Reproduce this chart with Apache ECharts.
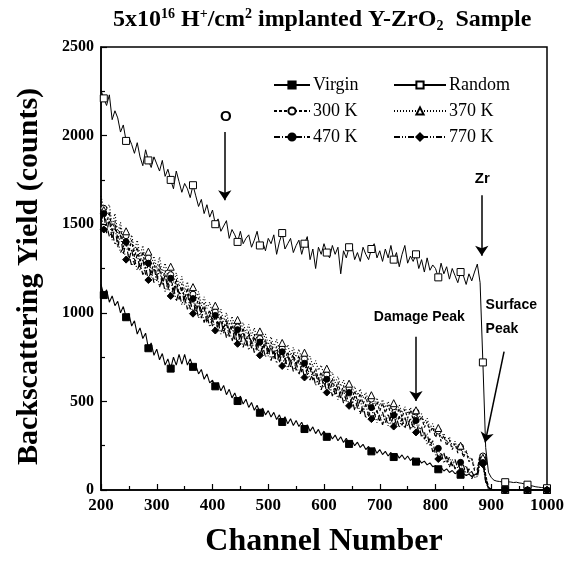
<!DOCTYPE html>
<html>
<head>
<meta charset="utf-8">
<script src="https://cdn.jsdelivr.net/npm/echarts@6/dist/echarts.min.js"></script>
<style>html,body{margin:0;padding:0;background:#fff;}#c{width:567px;height:563px;}</style>
</head>
<body>
<div id="c"></div>
<script>
// ---- data ----
const channelStart = 200;
const channelStep = 5;
const markerChannels = [205,245,285,325,365,405,445,485,525,565,605,645,685,725,765,805,845,885,925,965,1000];
const xTicks = [200,300,400,500,600,700,800,900,1000];
const yTicks = [0,500,1000,1500,2000,2500];

const virgin = [
1160,1100,1130,1060,1095,1040,1065,1000,1035,975,
995,925,955,880,915,855,885,800,830,760,
795,735,770,705,740,685,750,705,765,710,
765,705,740,695,705,655,680,625,655,605,
620,585,605,560,590,538,568,520,548,502,
530,485,512,466,494,450,478,436,462,424,
448,412,438,398,424,384,414,374,402,364,
392,358,382,344,368,332,356,318,342,308,
332,300,320,288,310,278,300,268,292,260,
280,250,270,240,258,228,246,218,238,208,
228,200,218,192,212,186,206,180,198,172,
192,166,182,160,175,152,163,142,153,132,
136,117,128,107,119,99,110,92,101,86,
94,81,90,76,84,95,170,165,58,12,
4,2,3,1,2,1,0,2,1,0,
1,0,2,1,0,1,0,1,0,1,
0];

const random = [
2255,2210,2170,2230,2090,2140,2100,2020,2060,1970,
1990,1950,1900,1960,1880,1830,1920,1860,1820,1880,
1840,1800,1860,1770,1810,1750,1700,1800,1740,1680,
1730,1700,1650,1720,1660,1600,1640,1560,1610,1540,
1580,1500,1530,1460,1490,1520,1420,1470,1440,1400,
1460,1390,1420,1440,1370,1410,1460,1380,1400,1350,
1420,1390,1440,1330,1400,1450,1360,1390,1420,1340,
1380,1410,1330,1390,1430,1300,1360,1250,1370,1330,
1390,1340,1310,1380,1330,1370,1220,1350,1310,1370,
1380,1300,1340,1290,1370,1330,1300,1360,1390,1310,
1350,1290,1360,1310,1380,1300,1340,1260,1330,1380,
1280,1320,1290,1330,1250,1300,1230,1310,1240,1270,
1250,1200,1280,1220,1260,1190,1250,1210,1170,1230,
1210,1160,1220,1180,1230,1275,1170,720,240,100,
70,55,50,48,45,44,46,45,42,44,
40,38,33,30,25,22,18,16,14,12,
10];

const k300 = [
1570,1590,1500,1570,1455,1520,1415,1480,1370,1435,
1345,1410,1315,1370,1285,1345,1250,1310,1230,1285,
1210,1275,1180,1240,1155,1215,1125,1190,1105,1165,
1075,1140,1050,1105,1025,1085,1000,1055,975,1015,
950,1005,930,985,910,965,890,945,875,920,
860,915,840,895,825,880,810,855,795,850,
780,835,765,810,745,800,735,780,720,775,
705,760,695,740,680,715,650,685,625,665,
610,650,590,630,565,610,545,590,530,575,
515,560,500,545,485,525,470,513,455,500,
445,490,435,480,425,470,417,461,409,455,
405,450,397,440,383,415,353,385,325,355,
297,333,275,307,250,283,228,263,209,243,
185,217,160,177,110,115,198,192,85,15,
3,2,1,0,1,0,1,0,0,1,
0,0,1,0,0,1,0,0,1,0,
0];

const k370 = [
1660,1580,1590,1610,1490,1560,1450,1510,1410,1460,
1380,1440,1350,1410,1320,1380,1285,1345,1270,1320,
1250,1315,1225,1280,1205,1260,1170,1225,1150,1205,
1120,1175,1095,1145,1070,1120,1040,1090,1025,1060,
990,1040,970,1020,950,1000,930,980,920,960,
900,945,885,935,870,915,850,895,845,880,
820,865,805,850,790,830,780,820,760,805,
750,795,740,775,725,755,695,730,675,705,
645,685,630,665,605,640,585,620,570,600,
550,585,535,570,520,550,500,535,485,520,
475,510,465,500,455,490,445,480,435,470,
430,465,420,450,405,430,380,405,350,375,
320,350,295,320,270,300,245,275,225,250,
200,225,178,180,125,120,188,182,82,15,
4,2,1,1,0,1,0,1,0,0,
0,1,0,0,1,0,0,1,0,0,
0];

const k470 = [
1520,1560,1450,1530,1410,1490,1370,1440,1330,1400,
1295,1360,1270,1330,1240,1305,1215,1280,1200,1260,
1180,1245,1155,1215,1130,1195,1100,1165,1075,1140,
1045,1110,1020,1080,995,1055,970,1030,945,990,
925,985,905,965,885,945,865,925,845,905,
830,890,815,875,800,860,785,835,770,830,
755,815,740,790,720,780,710,760,695,755,
675,735,665,715,650,690,620,660,595,640,
580,625,560,605,535,585,515,565,500,550,
480,530,460,510,440,485,415,465,400,450,
390,440,380,430,375,422,369,416,365,412,
359,406,349,392,327,358,287,318,247,278,
197,235,177,210,153,185,135,172,123,156,
105,138,88,105,70,92,160,155,50,8,
2,1,0,1,0,0,1,0,0,0,
0,1,0,0,0,1,0,0,0,0,
0];

const k770 = [
1565,1470,1495,1430,1455,1385,1410,1340,1365,1300,
1330,1265,1305,1240,1280,1215,1255,1185,1240,1170,
1220,1145,1195,1120,1170,1095,1145,1065,1120,1045,
1095,1020,1070,995,1045,970,1020,945,990,920,
970,900,950,880,930,860,910,840,890,825,
875,805,860,790,845,775,830,760,815,750,
800,730,785,715,765,700,750,680,735,670,
720,650,705,635,685,620,660,590,635,565,
620,550,600,530,580,510,560,490,540,475,
520,450,500,430,475,405,440,400,438,380,
425,368,420,362,415,358,410,352,405,348,
400,340,390,325,370,298,330,258,290,215,
235,175,212,152,190,130,172,118,160,105,
142,85,120,64,96,72,150,145,45,6,
1,0,0,1,0,0,0,1,0,0,
0,0,0,1,0,0,0,0,1,0,
0];

// annotation positions in data coordinates [channel, counts]
const arrows = [
  [[422, 2020], [422, 1635]],
  [[883, 1663], [883, 1322]],
  [[765, 865], [765, 502]],
  [[923, 781], [889, 268]]
];
const labels = [
  {coord: [424, 2104], text: 'O'},
  {coord: [884, 1758], text: 'Zr'},
  {coord: [771, 977], text: 'Damage Peak'}
];
const surfaceLabel = {coord: [889, 976], text: 'Surface\nPeak'};

// ---- chart ----
const markerSet = new Set(markerChannels);
function buildData(values) {
  return values.map(function (v, i) {
    const ch = channelStart + i * channelStep;
    return markerSet.has(ch) ? [ch, v] : {value: [ch, v], symbol: 'none'};
  });
}

const serif = '"Liberation Serif", "Times New Roman", serif';
const sans = '"Liberation Sans", Arial, sans-serif';

function mkSeries(name, values, symbol, filled, dash, size, width) {
  return {
    name: name,
    type: 'line',
    data: buildData(values),
    symbol: symbol,
    symbolSize: size,
    showSymbol: true,
    showAllSymbol: true,
    clip: true,
    lineStyle: {color: '#000', width: width, type: dash},
    itemStyle: {color: filled ? '#000' : '#fff', borderColor: '#000', borderWidth: 1, opacity: 1},
    emphasis: {disabled: true},
    silent: true,
    z: 3
  };
}

const seriesList = [
  mkSeries('Virgin', virgin, 'rect', true, 'solid', 7, 1.1),
  mkSeries('Random', random, 'rect', false, 'solid', 7, 1),
  mkSeries('300 K', k300, 'circle', false, [3, 2], 6, 1.2),
  mkSeries('370 K', k370, 'triangle', false, [1, 2], 7, 1.2),
  mkSeries('470 K', k470, 'circle', true, [6, 2, 1, 2], 6, 1.2),
  mkSeries('770 K', k770, 'diamond', true, [6, 2, 1, 2, 1, 2], 7, 1.2)
];

const annotTextStyle = {color: '#000', fontFamily: sans, fontWeight: 'bold', fontSize: 14};
seriesList[0].markLine = {
  silent: true,
  symbol: ['none', 'arrow'],
  symbolSize: 10,
  label: {show: false},
  itemStyle: {color: '#000'},
  lineStyle: {color: '#000', width: 1.5, type: 'solid'},
  emphasis: {disabled: true},
  data: arrows.map(function (a) { return [{coord: a[0]}, {coord: a[1]}]; })
};
seriesList[0].markPoint = {
  silent: true,
  symbol: 'circle',
  symbolSize: 1,
  itemStyle: {color: 'rgba(0,0,0,0)', borderWidth: 0},
  data: labels.map(function (l) {
    return {coord: l.coord, label: Object.assign({show: true, position: 'inside', formatter: l.text}, annotTextStyle, {fontSize: l.text === 'Damage Peak' ? 14 : 15})};
  }).concat([{coord: surfaceLabel.coord, label: Object.assign({show: true, position: 'right', distance: 0, align: 'left', lineHeight: 24, formatter: surfaceLabel.text}, annotTextStyle)}])
};

const chart = echarts.init(document.getElementById('c'), null, {renderer: 'canvas'});
chart.setOption({
  animation: false,
  backgroundColor: '#fff',
  title: {
    text: '{n|5x10}{sup|16}{n| H}{sup|+}{n|/cm}{sup|2}{n| implanted Y-ZrO}{sub|2}{n|  Sample}',
    left: 108, top: 2,
    textStyle: {
      rich: {
        n: {fontFamily: serif, fontSize: 24, color: '#000'},
        sup: {fontFamily: serif, fontSize: 14, color: '#000', padding: [0, 0, 12, 0]},
        sub: {fontFamily: serif, fontSize: 14, color: '#000', padding: [12, 0, 0, 0]}
      }
    }
  },
  legend: [
    {
      data: ['Virgin', '300 K', '470 K'],
      orient: 'vertical', left: 268, top: 71,
      itemWidth: 36, itemHeight: 9, itemGap: 8,
      selectedMode: false,
      textStyle: {fontFamily: serif, fontSize: 18, color: '#000', padding: [0, 0, 0, -2]}
    },
    {
      data: ['Random', '370 K', '770 K'],
      orient: 'vertical', left: 388, top: 71,
      itemWidth: 52, itemHeight: 9, itemGap: 8,
      selectedMode: false,
      textStyle: {fontFamily: serif, fontSize: 18, color: '#000', padding: [0, 0, 0, -2]}
    }
  ],
  grid: {left: 101, right: 18, top: 47, bottom: 68, show: true, borderColor: '#000', borderWidth: 1.5, backgroundColor: 'transparent'},
  xAxis: {
    type: 'value', min: xTicks[0], max: xTicks[xTicks.length - 1], interval: 100,
    name: 'Channel Number', nameLocation: 'middle', nameGap: 36,
    nameTextStyle: {fontFamily: serif, fontWeight: 'bold', fontSize: 32, color: '#000'},
    axisLine: {show: true, lineStyle: {color: '#000', width: 1.5}},
    axisTick: {show: true, inside: true, length: 6, lineStyle: {color: '#000', width: 1.2}},
    minorTick: {show: true, splitNumber: 2, length: 4, lineStyle: {color: '#000', width: 1.2}},
    axisLabel: {fontFamily: serif, fontWeight: 'bold', fontSize: 17, color: '#000', margin: 7, formatter: function (v) { return String(v); }},
    splitLine: {show: false}
  },
  yAxis: {
    type: 'value', min: yTicks[0], max: yTicks[yTicks.length - 1], interval: 500,
    name: 'Backscattering Yield (counts)', nameLocation: 'middle', nameGap: 57, nameRotate: 90,
    nameTextStyle: {fontFamily: serif, fontWeight: 'bold', fontSize: 30, color: '#000', padding: [0, 16, 0, 0]},
    axisLine: {show: true, lineStyle: {color: '#000', width: 1.5}},
    axisTick: {show: true, inside: true, length: 6, lineStyle: {color: '#000', width: 1.2}},
    minorTick: {show: true, splitNumber: 2, length: 4, lineStyle: {color: '#000', width: 1.2}},
    axisLabel: {fontFamily: serif, fontWeight: 'bold', fontSize: 16, color: '#000', margin: 7, formatter: function (v) { return String(v); }},
    splitLine: {show: false}
  },
  series: seriesList
});
</script>
</body>
</html>
